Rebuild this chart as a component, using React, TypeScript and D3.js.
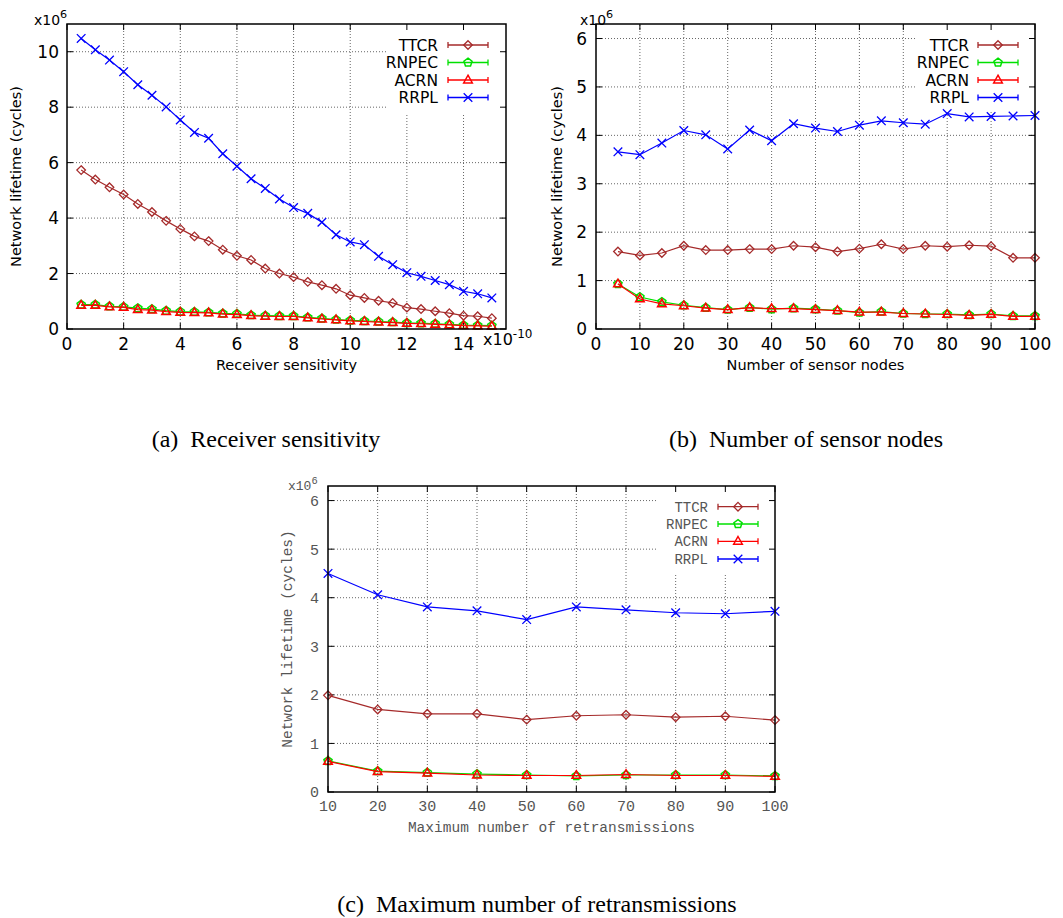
import React, { useEffect, useRef } from 'react';
import * as d3 from 'd3';

// ---------- DATA ----------
const seriesNames = ['TTCR', 'RNPEC', 'ACRN', 'RRPL'];
const seriesColors = ['#a52a2a', '#00e000', '#ff0000', '#0000ff'];
const seriesMarkers = ['diamond', 'pentagon', 'triangle', 'cross'];

// (a) Receiver sensitivity (x10^-10)
const sensX = [0.5, 1, 1.5, 2, 2.5, 3, 3.5, 4, 4.5, 5, 5.5, 6, 6.5, 7, 7.5, 8, 8.5, 9, 9.5, 10, 10.5, 11, 11.5, 12, 12.5, 13, 13.5, 14, 14.5, 15];
const sensTTCR = [5.73, 5.39, 5.11, 4.85, 4.51, 4.22, 3.9, 3.61, 3.34, 3.17, 2.86, 2.64, 2.49, 2.18, 2.0, 1.87, 1.7, 1.58, 1.45, 1.22, 1.12, 1.02, 0.94, 0.77, 0.72, 0.64, 0.57, 0.48, 0.46, 0.39];
const sensRNPEC = [0.88, 0.88, 0.82, 0.8, 0.75, 0.72, 0.66, 0.63, 0.62, 0.6, 0.56, 0.55, 0.5, 0.48, 0.47, 0.47, 0.42, 0.38, 0.34, 0.31, 0.29, 0.27, 0.25, 0.22, 0.21, 0.19, 0.17, 0.14, 0.13, 0.12];
const sensACRN = [0.85, 0.85, 0.8, 0.78, 0.7, 0.68, 0.63, 0.6, 0.59, 0.58, 0.54, 0.52, 0.48, 0.46, 0.45, 0.45, 0.4, 0.36, 0.33, 0.29, 0.27, 0.25, 0.23, 0.2, 0.19, 0.17, 0.15, 0.12, 0.11, 0.1];
const sensRRPL = [10.48, 10.07, 9.7, 9.28, 8.81, 8.43, 8.01, 7.54, 7.09, 6.88, 6.32, 5.87, 5.42, 5.07, 4.69, 4.38, 4.17, 3.85, 3.4, 3.14, 3.04, 2.62, 2.32, 2.03, 1.9, 1.75, 1.6, 1.36, 1.27, 1.12];
const sensXTicks = [0, 2, 4, 6, 8, 10, 12, 14];
const sensYTicks = [0, 2, 4, 6, 8, 10];

// (b) Number of sensor nodes
const nodesX = [5, 10, 15, 20, 25, 30, 35, 40, 45, 50, 55, 60, 65, 70, 75, 80, 85, 90, 95, 100];
const nodesTTCR = [1.6, 1.52, 1.57, 1.72, 1.63, 1.63, 1.65, 1.65, 1.72, 1.69, 1.6, 1.66, 1.75, 1.65, 1.72, 1.7, 1.73, 1.71, 1.47, 1.47];
const nodesRNPEC = [0.93, 0.66, 0.56, 0.49, 0.44, 0.4, 0.44, 0.41, 0.43, 0.41, 0.38, 0.34, 0.36, 0.32, 0.31, 0.31, 0.29, 0.31, 0.27, 0.27];
const nodesACRN = [0.93, 0.62, 0.52, 0.48, 0.43, 0.4, 0.44, 0.42, 0.42, 0.4, 0.38, 0.35, 0.35, 0.32, 0.31, 0.3, 0.28, 0.3, 0.26, 0.26];
const nodesRRPL = [3.66, 3.6, 3.84, 4.1, 4.01, 3.72, 4.11, 3.89, 4.24, 4.15, 4.08, 4.21, 4.3, 4.26, 4.23, 4.45, 4.38, 4.39, 4.4, 4.41];
const nodesXTicks = [0, 10, 20, 30, 40, 50, 60, 70, 80, 90, 100];
const lifeYTicks = [0, 1, 2, 3, 4, 5, 6];

// (c) Maximum number of retransmissions
const retrX = [10, 20, 30, 40, 50, 60, 70, 80, 90, 100];
const retrTTCR = [1.99, 1.7, 1.61, 1.61, 1.49, 1.57, 1.59, 1.54, 1.56, 1.48];
const retrRNPEC = [0.64, 0.43, 0.4, 0.37, 0.35, 0.33, 0.35, 0.35, 0.35, 0.33];
const retrACRN = [0.63, 0.42, 0.39, 0.35, 0.34, 0.34, 0.36, 0.34, 0.34, 0.32];
const retrRRPL = [4.5, 4.06, 3.81, 3.73, 3.55, 3.81, 3.75, 3.69, 3.67, 3.72];
const retrXTicks = [10, 20, 30, 40, 50, 60, 70, 80, 90, 100];

// ---------- DRAWING ----------
function drawMarker(g: any, kind: string, cx: number, cy: number, color: string) {
  const r = 4.3;
  if (kind === 'diamond') {
    g.append('path').attr('d', `M${cx},${cy - r}L${cx + r},${cy}L${cx},${cy + r}L${cx - r},${cy}Z`)
      .attr('fill', 'none').attr('stroke', color).attr('stroke-width', 1.3);
  } else if (kind === 'pentagon') {
    const pts = d3.range(5).map((i) => {
      const a = -Math.PI / 2 + (i * 2 * Math.PI) / 5;
      return [cx + r * Math.cos(a), cy + r * Math.sin(a)];
    });
    g.append('path').attr('d', 'M' + pts.map((p) => p.join(',')).join('L') + 'Z')
      .attr('fill', 'none').attr('stroke', color).attr('stroke-width', 1.5);
  } else if (kind === 'triangle') {
    const rr = 4.8;
    g.append('path').attr('d', `M${cx},${cy - rr}L${cx + rr * 0.9},${cy + rr * 0.6}L${cx - rr * 0.9},${cy + rr * 0.6}Z`)
      .attr('fill', 'none').attr('stroke', color).attr('stroke-width', 1.5);
  } else {
    g.append('path').attr('d', `M${cx - r},${cy - r}L${cx + r},${cy + r}M${cx - r},${cy + r}L${cx + r},${cy - r}`)
      .attr('fill', 'none').attr('stroke', color).attr('stroke-width', 1.3);
  }
}

interface PanelCfg {
  left: number; right: number; top: number; bottom: number;
  xDomain: [number, number]; yDomain: [number, number];
  xTicks: number[]; yTicks: number[];
  xs: number[]; series: number[][];
  font: string; color: string;
  tickSize: number; titleSize: number; legendSize: number;
  xTitle: string; yTitle: string;
  yTitleX: number; xTitleY: number; xTickY: number; yTickX: number;
  legendBox: [number, number, number, number];
  legendTextX: number; legendLineX: [number, number]; legendY: number[];
  expX: number; expY: number; expSize: number;
}

function drawPanel(root: any, p: PanelCfg) {
  const x = d3.scaleLinear().domain(p.xDomain).range([p.left, p.right]);
  const y = d3.scaleLinear().domain(p.yDomain).range([p.bottom, p.top]);
  const g = root.append('g');

  // grid
  p.xTicks.forEach((t) => {
    const px = x(t);
    if (px > p.left + 1 && px < p.right - 1)
      g.append('line').attr('x1', px).attr('x2', px).attr('y1', p.bottom).attr('y2', p.top)
        .attr('stroke', '#555').attr('stroke-width', 0.9).attr('stroke-dasharray', '1,2');
  });
  p.yTicks.forEach((t) => {
    const py = y(t);
    if (py < p.bottom - 1 && py > p.top + 1)
      g.append('line').attr('x1', p.left).attr('x2', p.right).attr('y1', py).attr('y2', py)
        .attr('stroke', '#555').attr('stroke-width', 0.9).attr('stroke-dasharray', '1,2');
  });

  // legend box (opaque)
  const [lx, ly, lw, lh] = p.legendBox;
  g.append('rect').attr('x', lx).attr('y', ly).attr('width', lw).attr('height', lh).attr('fill', '#fff');

  // tick marks (mirrored)
  const tl = 6;
  p.xTicks.forEach((t) => {
    const px = x(t);
    g.append('line').attr('x1', px).attr('x2', px).attr('y1', p.bottom).attr('y2', p.bottom - tl).attr('stroke', '#000');
    g.append('line').attr('x1', px).attr('x2', px).attr('y1', p.top).attr('y2', p.top + tl).attr('stroke', '#000');
  });
  p.yTicks.forEach((t) => {
    const py = y(t);
    g.append('line').attr('x1', p.left).attr('x2', p.left + tl).attr('y1', py).attr('y2', py).attr('stroke', '#000');
    g.append('line').attr('x1', p.right).attr('x2', p.right - tl).attr('y1', py).attr('y2', py).attr('stroke', '#000');
  });

  // series
  p.series.forEach((vals, si) => {
    const color = seriesColors[si];
    const line = d3.line<number>().x((_, i) => x(p.xs[i])).y((d) => y(d));
    g.append('path').attr('d', line(vals)).attr('fill', 'none').attr('stroke', color).attr('stroke-width', 1.2);
    vals.forEach((v, i) => drawMarker(g, seriesMarkers[si], x(p.xs[i]), y(v), color));
  });

  // border
  g.append('rect').attr('x', p.left).attr('y', p.top).attr('width', p.right - p.left).attr('height', p.bottom - p.top)
    .attr('fill', 'none').attr('stroke', '#000').attr('stroke-width', 1.5);

  // tick labels
  p.xTicks.forEach((t) => {
    g.append('text').attr('x', x(t)).attr('y', p.xTickY).attr('text-anchor', 'middle')
      .attr('font-family', p.font).attr('font-size', p.tickSize).attr('fill', p.color).text(String(t));
  });
  p.yTicks.forEach((t) => {
    g.append('text').attr('x', p.yTickX).attr('y', y(t)).attr('dy', '0.36em').attr('text-anchor', 'end')
      .attr('font-family', p.font).attr('font-size', p.tickSize).attr('fill', p.color).text(String(t));
  });

  // exponent label
  const ex = g.append('text').attr('x', p.expX).attr('y', p.expY).attr('font-family', p.font)
    .attr('font-size', p.expSize).attr('fill', p.color);
  ex.append('tspan').text('x10');
  ex.append('tspan').attr('dy', -p.expSize * 0.5).attr('font-size', p.expSize * 0.8).text('6');

  // axis titles
  g.append('text').attr('x', (p.left + p.right) / 2).attr('y', p.xTitleY).attr('text-anchor', 'middle')
    .attr('font-family', p.font).attr('font-size', p.titleSize).attr('fill', p.color).text(p.xTitle);
  g.append('text').attr('transform', `translate(${p.yTitleX},${(p.top + p.bottom) / 2}) rotate(-90)`)
    .attr('text-anchor', 'middle').attr('dy', '0.35em')
    .attr('font-family', p.font).attr('font-size', p.titleSize).attr('fill', p.color).text(p.yTitle);

  // legend entries
  seriesNames.forEach((name, si) => {
    const cy = p.legendY[si];
    const color = seriesColors[si];
    g.append('text').attr('x', p.legendTextX).attr('y', cy).attr('dy', '0.36em').attr('text-anchor', 'end')
      .attr('font-family', p.font).attr('font-size', p.legendSize).attr('fill', p.color).text(name);
    const [a, b] = p.legendLineX;
    g.append('line').attr('x1', a).attr('x2', b).attr('y1', cy).attr('y2', cy).attr('stroke', color).attr('stroke-width', 1.3);
    g.append('line').attr('x1', a).attr('x2', a).attr('y1', cy - 3).attr('y2', cy + 3).attr('stroke', color).attr('stroke-width', 1.3);
    g.append('line').attr('x1', b).attr('x2', b).attr('y1', cy - 3).attr('y2', cy + 3).attr('stroke', color).attr('stroke-width', 1.3);
    drawMarker(g, seriesMarkers[si], (a + b) / 2, cy, color);
  });
}

export default function App() {
  const ref = useRef<SVGSVGElement | null>(null);

  useEffect(() => {
    const svg = d3.select(ref.current);
    svg.selectAll('*').remove();
    svg.append('rect').attr('width', 1063).attr('height', 918).attr('fill', '#fff');

    const sans = 'DejaVu Sans, Verdana, sans-serif';
    const mono = 'Liberation Mono, Courier New, monospace';

    drawPanel(svg, {
      left: 67, right: 506, top: 24, bottom: 329,
      xDomain: [0, 15.5], yDomain: [0, 11],
      xTicks: sensXTicks, yTicks: sensYTicks,
      xs: sensX, series: [sensTTCR, sensRNPEC, sensACRN, sensRRPL],
      font: sans, color: '#000', tickSize: 17, titleSize: 14.5, legendSize: 15.5,
      xTitle: 'Receiver sensitivity', yTitle: 'Network lifetime (cycles)',
      yTitleX: 16, xTitleY: 370, xTickY: 350, yTickX: 59,
      legendBox: [387, 25, 117, 88],
      legendTextX: 438, legendLineX: [448, 488], legendY: [45, 62.5, 80, 97.5],
      expX: 34, expY: 25, expSize: 14,
    });

    // x10^-10 multiplier for panel (a)
    const e = svg.append('text').attr('x', 483).attr('y', 345).attr('font-family', sans).attr('font-size', 16).attr('fill', '#000');
    e.append('tspan').text('x10');
    e.append('tspan').attr('dy', -7).attr('font-size', 12).text('-10');

    drawPanel(svg, {
      left: 596, right: 1035, top: 24, bottom: 329,
      xDomain: [0, 100], yDomain: [0, 6.3],
      xTicks: nodesXTicks, yTicks: lifeYTicks,
      xs: nodesX, series: [nodesTTCR, nodesRNPEC, nodesACRN, nodesRRPL],
      font: sans, color: '#000', tickSize: 17, titleSize: 14.5, legendSize: 15.5,
      xTitle: 'Number of sensor nodes', yTitle: 'Network lifetime (cycles)',
      yTitleX: 557, xTitleY: 370, xTickY: 350, yTickX: 587,
      legendBox: [917, 25, 117, 86],
      legendTextX: 969, legendLineX: [978, 1018], legendY: [45, 62.5, 80, 97.5],
      expX: 580, expY: 25, expSize: 14,
    });

    drawPanel(svg, {
      left: 328, right: 775, top: 486, bottom: 792,
      xDomain: [10, 100], yDomain: [0, 6.3],
      xTicks: retrXTicks, yTicks: lifeYTicks,
      xs: retrX, series: [retrTTCR, retrRNPEC, retrACRN, retrRRPL],
      font: mono, color: '#555', tickSize: 15, titleSize: 14.5, legendSize: 14,
      xTitle: 'Maximum number of retransmissions', yTitle: 'Network lifetime (cycles)',
      yTitleX: 287, xTitleY: 832, xTickY: 811, yTickX: 319,
      legendBox: [657, 487, 117, 88],
      legendTextX: 708, legendLineX: [718, 758], legendY: [506.7, 524, 541.3, 559],
      expX: 288, expY: 490, expSize: 13,
    });

    // captions
    const serif = 'Liberation Serif, Times New Roman, serif';
    [['(a)  Receiver sensitivity', 266, 447], ['(b)  Number of sensor nodes', 806, 447], ['(c)  Maximum number of retransmissions', 537, 912]]
      .forEach(([t, cx, cy]) => {
        svg.append('text').attr('x', cx as number).attr('y', cy as number).attr('text-anchor', 'middle')
          .attr('font-family', serif).attr('font-size', 24).attr('fill', '#000')
          .attr('xml:space', 'preserve').style('white-space', 'pre').text(t as string);
      });
  }, []);

  return (
    <svg ref={ref} width={1063} height={918} style={{ position: 'absolute', left: 0, top: 0 }} />
  );
}
